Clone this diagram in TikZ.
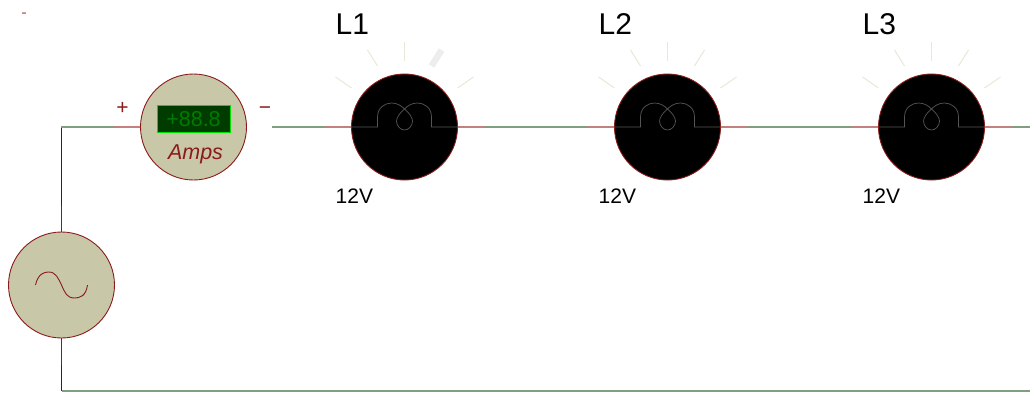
\documentclass[tikz,border=0pt]{standalone}
\usepackage{fontspec}
\setmainfont{Liberation Sans}
\definecolor{wiregreen}{HTML}{7F9F7F}
\definecolor{pinred}{HTML}{C47F7F}
\definecolor{darkred}{HTML}{8B1A1A}
\definecolor{darkgreen}{HTML}{0A3C0A}
\definecolor{body}{HTML}{C8C8A9}
\definecolor{ray}{HTML}{E8E8D8}
\definecolor{filament}{HTML}{555555}
\definecolor{dispbg}{HTML}{003C00}
\definecolor{dispedge}{HTML}{00E000}
\definecolor{disptext}{HTML}{007A00}
\tikzset{
  x=1pt,y=-1pt,
  wire/.style={draw=wiregreen,line width=1.5pt},
  pinline/.style={draw=pinred,line width=1.5pt},
  instr/.style={circle,draw=darkred,fill=body,line width=0.9pt,minimum size=106pt,inner sep=0pt},
  lampbody/.style={circle,draw=darkred,fill=black,line width=0.9pt,minimum size=106pt,inner sep=0pt},
  rayline/.style={draw=ray,line width=1pt},
  fil/.style={draw=filament,line width=0.7pt},
  bigtext/.style={inner sep=0pt,anchor=base west,font=\fontsize{30}{30}\selectfont,text=black},
  smalltext/.style={inner sep=0pt,anchor=base west,font=\fontsize{21}{21}\selectfont,text=black},
  symbol/.style={inner sep=0pt,text=darkred,font=\fontsize{21}{21}\selectfont}
}
\newcommand{\mylamp}[3]{%
  \coordinate (#1pl) at (#2-80,127);
  \coordinate (#1pr) at (#2+80,127);
  \draw[pinline] (#1pl) -- (#2-53,127);
  \draw[pinline] (#2+53,127) -- (#1pr);
  \node[lampbody] (#1) at (#2,127) {};
  \draw[fil] (#1.west) -- (#2-27,127) -- (#2-27,117)
    .. controls (#2-27,108) and (#2-20,103) .. (#2-13,103)
    .. controls (#2-7,103) and (#2-3,106) .. (#2,109)
    .. controls (#2-5,113) and (#2-8,118) .. (#2-8,121)
    .. controls (#2-8,126) and (#2-4,130) .. (#2,130)
    .. controls (#2+4,130) and (#2+8,126) .. (#2+8,121)
    .. controls (#2+8,118) and (#2+5,113) .. (#2,109)
    .. controls (#2+3,106) and (#2+7,103) .. (#2+13,103)
    .. controls (#2+20,103) and (#2+27,108) .. (#2+27,117)
    -- (#2+27,127) -- (#1.east);
  \draw[rayline] (#2-69,77) -- (#2-53,88);
  \draw[rayline] (#2-37,50) -- (#2-27,66);
  \draw[rayline] (#2,42) -- (#2,61);
  \draw[rayline,#3] (#2+37,50) -- (#2+27,66);
  \draw[rayline] (#2+69,77) -- (#2+53,88);
  \node[bigtext] (#1name) at (#2-69,34) {#1};
  \node[smalltext] (#1val) at (#2-69,203) {12V};
}
\begin{document}
\begin{tikzpicture}
\useasboundingbox (0,0) rectangle (1030,394);
\node[inner sep=0pt,text=pinred,font=\fontsize{15}{15}\bfseries\selectfont] (dash) at (24,15) {-};
% Wires (drawn first, under the bodies)
\coordinate (tl) at (61.5,127);
\coordinate (ampin) at (114,127);
\coordinate (ampout) at (272,127);
\coordinate (bl) at (61.5,391);
\coordinate (upmid) at (61.5,206);
\coordinate (mid) at (61.5,365);
\coordinate (er) at (1030,127);
\coordinate (br) at (1030,391);
% Source
\node[instr] (src) at (61.5,285) {};
\draw[draw=darkred,line width=0.9pt] (35.5,285)
  .. controls (38,274) and (44,272) .. (48.5,272)
  .. controls (56,272) and (58,278) .. (61.5,285)
  .. controls (65,293) and (67,298) .. (74.5,298)
  .. controls (80,298) and (86,296) .. (87.5,285);
% Ammeter
\node[instr] (amm) at (193.5,127) {};
\node[draw=dispedge,fill=dispbg,line width=1pt,minimum width=73pt,minimum height=26.5pt,inner sep=0pt,text=disptext,font=\fontsize{21.5}{21.5}\selectfont] (disp) at (193.5,119) {+88.8};
\node[inner sep=0pt,text=darkred,font=\fontsize{21.5}{21.5}\selectfont\itshape] (ampl) at (195.5,154) {Amps};
\node[symbol] (plus) at (122.5,108) {+};
\node[symbol] (minus) at (265,110.5) {−};
% Lamps
\mylamp{L1}{404.5}{draw=black!7,line width=6.5pt}
\mylamp{L2}{667.5}{}
\mylamp{L3}{931.5}{}
% Connectors
\draw[draw=darkred,line width=1pt] (src.north) -- (upmid);
\draw[draw=darkgreen,line width=1pt] (upmid) -- (tl);
\draw[wire] (60.75,127) -- (ampin);
\draw[pinline] (ampin) -- (amm.west);
\draw[wire] (ampout) -- (L1pl);
\draw[wire] (L1pr) -- (L2pl);
\draw[wire] (L2pr) -- (L3pl);
\draw[wire] (L3pr) -- (er);
\draw[draw=darkred,line width=1pt] (src.south) -- (mid);
\draw[draw=darkgreen,line width=1pt] (mid) -- (bl);
\draw[wire] (bl) -- (br);
\end{tikzpicture}
\end{document}
